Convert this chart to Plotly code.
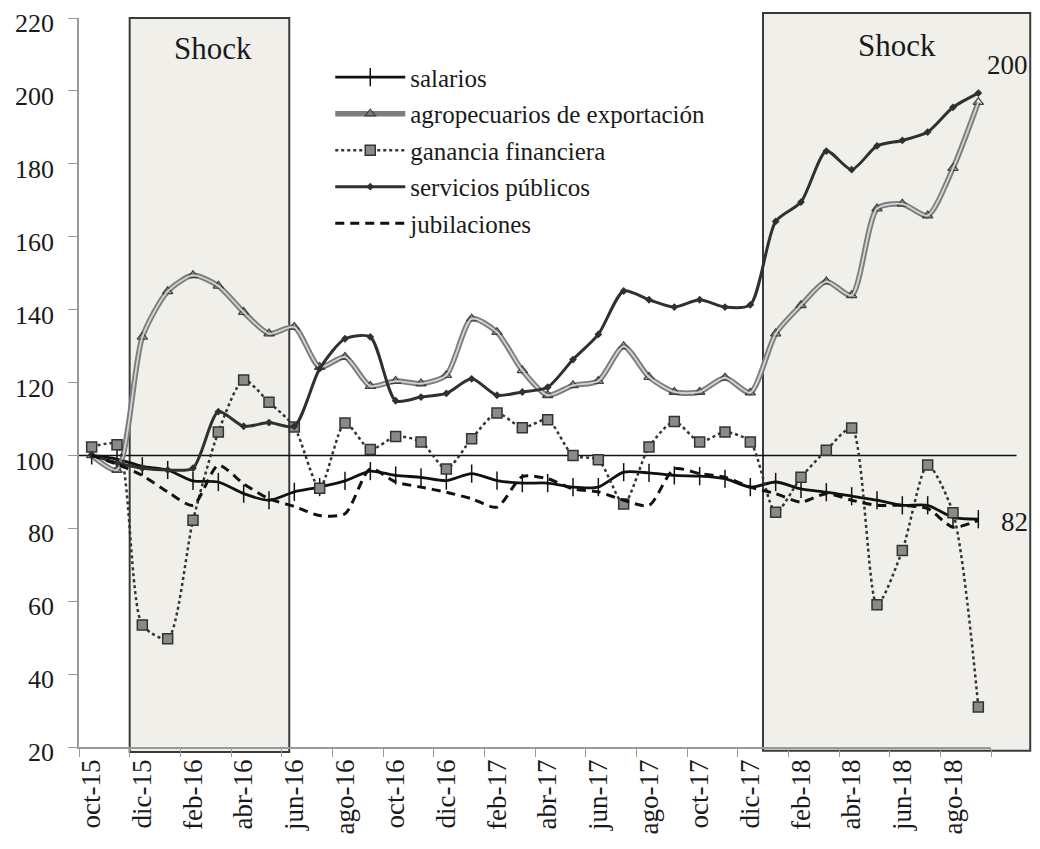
import plotly.graph_objects as go

### DATA ###
meses = ["oct-15", "nov-15", "dic-15", "ene-16", "feb-16", "mar-16", "abr-16", "may-16",
         "jun-16", "jul-16", "ago-16", "sep-16", "oct-16", "nov-16", "dic-16", "ene-17",
         "feb-17", "mar-17", "abr-17", "may-17", "jun-17", "jul-17", "ago-17", "sep-17",
         "oct-17", "nov-17", "dic-17", "ene-18", "feb-18", "mar-18", "abr-18", "may-18",
         "jun-18", "jul-18", "ago-18", "sep-18"]

salarios = [100, 99, 97, 96, 93, 92.7, 89.5, 87.7, 90, 91.3, 93, 95.7, 94.5, 94, 93.1, 95,
            93.1, 92.4, 92.4, 91.3, 91.3, 95.4, 95.2, 94.5, 94.3, 93.6, 91.3, 92.7, 90.8,
            89.9, 88.8, 87.7, 86.3, 86.3, 83, 82.5]
agropecuarios = [100, 96, 132.5, 145, 149.4, 146.5, 139.3, 133.4, 135.2, 124.2, 127, 119,
                 120.4, 119.7, 122, 137.5, 133.8, 123.3, 116.5, 119.2, 120.4, 129.9, 121.5,
                 117.4, 117.4, 121.3, 117.2, 133.4, 141.2, 147.7, 143.9, 167.7, 169, 165.8,
                 178.8, 196.9]
ganancia = [102.3, 102.9, 53.5, 49.7, 82.2, 106.4, 120.7, 114.6, 107.8, 91, 108.9, 101.6,
            105.2, 103.7, 96.3, 104.6, 111.6, 107.6, 109.8, 100, 98.8, 86.7, 102.3, 109.3,
            103.7, 106.4, 103.7, 84.4, 94, 101.4, 107.5, 59, 73.9, 97.4, 84.3, 31]
servicios = [100, 98, 96.5, 96, 96.5, 112, 108, 109, 108, 123.8, 132, 132.5, 115, 116, 117,
             121, 116.5, 117.4, 118.7, 126.3, 133.2, 145.1, 142.7, 140.7, 142.7, 140.7, 141.3,
             164.2, 169.5, 183.5, 178.4, 184.9, 186.4, 188.7, 195.5, 199.4]
jubilaciones = [100, 97.6, 94.5, 90, 86.3, 97.3, 92.2, 88.1, 86, 83.5, 84, 96.3, 92.7, 91.3,
                89.9, 88.1, 85.8, 94.2, 93.6, 90.8, 90, 87.7, 86.3, 96.3, 95, 94, 91.3, 89.5,
                87.2, 89.5, 87.7, 86.3, 86.3, 85.4, 80.3, 82.2]

y_ticks = [20, 40, 60, 80, 100, 120, 140, 160, 180, 200, 220]

FONT = "Liberation Serif"
n = len(meses)


def to_paper(i):
    # category index -> paper x (axis range is -0.5 .. n-0.5)
    return (i + 0.5) / n


fig = go.Figure()

fig.add_trace(go.Scatter(x=meses, y=salarios, name="salarios", legendgroup="a",
                         mode="lines+markers", line=dict(color="#111111", width=2.8, shape="spline", smoothing=0.7),
                         marker=dict(symbol="line-ns-open", size=13, line=dict(color="#111111", width=1.5))))
fig.add_trace(go.Scatter(x=meses, y=agropecuarios, name="agropecuarios de exportación", legendgroup="b",
                         mode="lines+markers", line=dict(color="#7c7c7c", width=5.5, shape="spline", smoothing=0.7),
                         marker=dict(symbol="triangle-up-open", size=9, color="#404040", line=dict(width=1.3))))
fig.add_trace(go.Scatter(x=meses, y=agropecuarios, showlegend=False, legendgroup="b", hoverinfo="skip",
                         mode="lines", line=dict(color="#d4d4d4", width=1.8, shape="spline", smoothing=0.7)))
fig.add_trace(go.Scatter(x=meses, y=ganancia, name="ganancia financiera", legendgroup="c",
                         mode="lines+markers", line=dict(color="#333333", width=2.5, dash="dot", shape="spline", smoothing=0.7),
                         marker=dict(symbol="square", size=10, color="#8a8a8a", line=dict(color="#333333", width=1.5))))
fig.add_trace(go.Scatter(x=meses, y=servicios, name="servicios públicos", legendgroup="d",
                         mode="lines+markers", line=dict(color="#303030", width=3, shape="spline", smoothing=0.7),
                         marker=dict(symbol="diamond", size=6, color="#303030")))
fig.add_trace(go.Scatter(x=meses, y=jubilaciones, name="jubilaciones", legendgroup="e",
                         mode="lines", line=dict(color="#111111", width=3, dash="9px,6px", shape="spline", smoothing=0.7)))

# shock periods
shapes = [
    dict(type="rect", xref="x", yref="paper", x0=1.5, x1=7.8, y0=-0.007, y1=1.0,
         fillcolor="#f1efea", line=dict(color="#3a3a3a", width=2), layer="below"),
    dict(type="rect", xref="paper", yref="paper", x0=to_paper(26.5), x1=1.043, y0=-0.005, y1=1.007,
         fillcolor="#f1efea", line=dict(color="#3a3a3a", width=2), layer="below"),
    dict(type="line", xref="paper", yref="y", x0=0, x1=1.028, y0=100, y1=100,
         line=dict(color="#111111", width=1.5), layer="below"),
]

annotations = [
    dict(text="Shock", xref="x", yref="y", x=4.8, y=211.5, showarrow=False, xanchor="center",
         font=dict(family=FONT, size=31, color="#1a1a1a")),
    dict(text="Shock", xref="paper", yref="y", x=(to_paper(26.5) + 1.043) / 2, y=212.5, showarrow=False,
         xanchor="center", font=dict(family=FONT, size=31, color="#1a1a1a")),
    dict(text="200", xref="paper", yref="y", x=1.043, y=207, showarrow=False, xanchor="right",
         font=dict(family=FONT, size=27, color="#1a1a1a")),
    dict(text="82", xref="paper", yref="y", x=1.043, y=81.8, showarrow=False, xanchor="right",
         font=dict(family=FONT, size=27, color="#1a1a1a")),
]

# page body adds 8px around the plot div, so the figure is 16px smaller
fig.update_layout(
    width=1024, height=833,
    margin=dict(l=71, r=41, t=10, b=94),
    paper_bgcolor="white", plot_bgcolor="white",
    font=dict(family=FONT, size=25, color="#1a1a1a"),
    shapes=shapes, annotations=annotations,
    showlegend=True,
    legend=dict(x=0.2755, y=0.95, xanchor="left", yanchor="top", bgcolor="rgba(0,0,0,0)",
                font=dict(family=FONT, size=25), tracegroupgap=1, itemwidth=70),
    xaxis=dict(type="category", range=[-0.5, n - 0.5], dtick=2, tickson="boundaries",
               tickangle=-90, ticks="outside", ticklen=8, tickcolor="#999999",
               showline=True, linecolor="#999999", linewidth=1.5, showgrid=False, zeroline=False,
               automargin=False, tickfont=dict(family=FONT, size=27)),
    yaxis=dict(range=[20, 220], tickvals=y_ticks, ticks="outside", ticklen=9, tickcolor="#999999",
               showline=True, linecolor="#999999", linewidth=1.5, showgrid=False, zeroline=False,
               automargin=False, ticklabelstandoff=9, ticklabeloverflow="allow", ticklabelshift=5,
               tickfont=dict(family=FONT, size=26)),
)

fig.write_html("out.html")
